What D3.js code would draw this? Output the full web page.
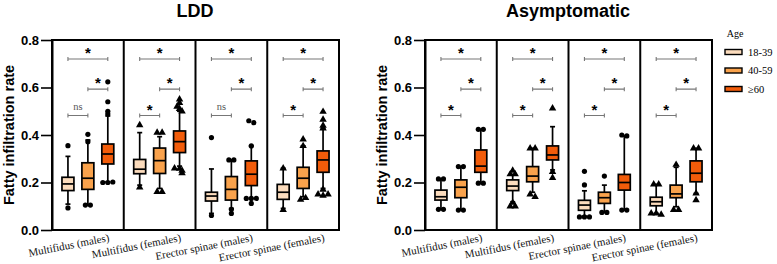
<!DOCTYPE html>
<html>
<head>
<meta charset="utf-8">
<script src="https://cdn.jsdelivr.net/npm/d3@7"></script>
<style>
  body { margin: 0; background: #fff; }
  svg { display: block; }
</style>
</head>
<body>
<svg id="chart" width="777" height="264"></svg>
<script>
// Box plots of fatty infiltration rate by muscle / sex / age, LDD vs asymptomatic.
const categories = ["Multifidus (males)", "Multifidus (females)",
                    "Erector spinae (males)", "Erector spinae (females)"];
const ageGroups = ["18-39", "40-59", "≥60"];
const yTicks = [0, 0.2, 0.4, 0.6, 0.8];
// per category, per age group: [whisker low, q1, median, q3, whisker high]
const lddStats = [
  [[0.109, 0.166, 0.194, 0.222, 0.310], [0.105, 0.171, 0.218, 0.283, 0.379], [0.203, 0.278, 0.320, 0.362, 0.480]],
  [[0.189, 0.237, 0.256, 0.297, 0.410], [0.175, 0.238, 0.292, 0.345, 0.393], [0.269, 0.326, 0.372, 0.417, 0.500]],
  [[0.070, 0.122, 0.143, 0.159, 0.257], [0.091, 0.126, 0.171, 0.225, 0.295], [0.133, 0.187, 0.235, 0.291, 0.354]],
  [[0.091, 0.129, 0.159, 0.192, 0.260], [0.140, 0.175, 0.218, 0.264, 0.354], [0.175, 0.243, 0.295, 0.333, 0.428]]
];
const lddOutliers = [
  [[0.355, 0.093], [0.403, 0.372, 0.105, 0.105], [0.624, 0.540, 0.500, 0.488, 0.200, 0.200, 0.202]],
  [[0.442, 0.180], [0.410, 0.410, 0.161, 0.161], [0.550, 0.535, 0.520, 0.510, 0.500, 0.260, 0.258, 0.250, 0.240]],
  [[0.389, 0.061], [0.295, 0.295, 0.087, 0.070], [0.460, 0.452, 0.354, 0.133, 0.133, 0.133, 0.112]],
  [[0.260, 0.085], [0.382, 0.354, 0.128, 0.135], [0.498, 0.465, 0.440, 0.428, 0.170, 0.150, 0.145, 0.150]]
];
const lddSig = [["*", "*", "ns"], ["*", "*", "*"], ["*", "*", "ns"], ["*", "*", "*"]];

const asymStats = [
  [[0.087, 0.126, 0.140, 0.168, 0.215], [0.084, 0.136, 0.180, 0.211, 0.267], [0.197, 0.243, 0.269, 0.337, 0.424]],
  [[0.119, 0.166, 0.185, 0.211, 0.234], [0.159, 0.203, 0.227, 0.267, 0.344], [0.253, 0.295, 0.316, 0.354, 0.435]],
  [[0.058, 0.083, 0.105, 0.125, 0.165], [0.074, 0.112, 0.136, 0.159, 0.189], [0.084, 0.168, 0.200, 0.234, 0.396]],
  [[0.070, 0.102, 0.119, 0.138, 0.192], [0.098, 0.136, 0.152, 0.189, 0.264], [0.154, 0.203, 0.239, 0.291, 0.344]]
];
const asymOutliers = [
  [[0.215, 0.215, 0.087, 0.087], [0.267, 0.267, 0.084, 0.084], [0.424, 0.424, 0.197, 0.197]],
  [[0.250, 0.235, 0.235, 0.115, 0.100, 0.100], [0.344, 0.344, 0.150, 0.140], [0.512, 0.245, 0.220]],
  [[0.247, 0.190, 0.055, 0.055, 0.055], [0.227, 0.074, 0.074], [0.400, 0.396, 0.084, 0.084]],
  [[0.192, 0.192, 0.070, 0.070, 0.065], [0.275, 0.085, 0.085], [0.344, 0.344, 0.126, 0.154]]
];
const asymSig = [["*", "*", "*"], ["*", "*", "*"], ["*", "*", "*"], ["*", "*", "*"]];

// comparison brackets: [from group, to group, height]
const brackets = [[0, 2, 0.72], [1, 2, 0.593], [0, 1, 0.482]];

const COLORS = ["#fcdcbd", "#f9a24c", "#f25c0a"];
const SANS = "'Liberation Sans', Arial, sans-serif";
const SERIF = "'Liberation Serif', 'Times New Roman', serif";

const svg = d3.select("#chart");
const y = d3.scaleLinear([0, 0.8], [230, 40]);

function spread(vals) {
  // small sideways offsets for points that sit at nearly the same value
  return vals.map((v, i) => {
    const k = vals.slice(0, i).filter((u) => Math.abs(u - v) < 0.011).length;
    const n = vals.filter((u) => Math.abs(u - v) < 0.011).length;
    return n === 1 ? 0 : (k - (n - 1) / 2) * 5;
  });
}

function drawChart(x0, title, stats, outliers, sig) {
  const x = d3.scaleBand(categories, [x0, x0 + 287]).padding(0);
  const xi = d3.scaleBand(ageGroups, [0, x.bandwidth()]).paddingInner(0.4).paddingOuter(0.5);
  const g = svg.append("g");

  g.append("text").attr("x", x0 + 143).attr("y", 17)
    .attr("text-anchor", "middle").attr("font-family", SANS)
    .attr("font-weight", "bold").attr("font-size", 18).text(title);

  // y axis
  const ax = g.append("g").attr("transform", `translate(${x0},0)`)
    .call(d3.axisLeft(y).tickValues(yTicks).tickFormat(d3.format(".1f"))
      .tickSize(11).tickPadding(2).tickSizeOuter(0));
  ax.select(".domain").attr("stroke-width", 2);
  ax.selectAll(".tick line").attr("stroke-width", 1.6);
  ax.selectAll(".tick text").attr("font-family", SANS).attr("font-weight", "bold")
    .attr("font-size", 13).attr("fill", "#000");

  g.append("text").attr("transform", `translate(${x0 - 38},135) rotate(-90)`)
    .attr("text-anchor", "middle").attr("font-family", SANS)
    .attr("font-weight", "bold").attr("font-size", 14.5).text("Fatty infiltration rate");

  // panel frame
  g.append("rect").attr("x", x0).attr("y", y(0.8)).attr("width", 287)
    .attr("height", y(0) - y(0.8)).attr("fill", "none")
    .attr("stroke", "#000").attr("stroke-width", 2);
  g.selectAll("line.div").data(categories.slice(1)).join("line")
    .attr("x1", (c) => x(c)).attr("x2", (c) => x(c))
    .attr("y1", y(0.8)).attr("y2", y(0))
    .attr("stroke", "#000").attr("stroke-width", 2);

  categories.forEach((cat, ci) => {
    const female = cat.includes("females");
    const pg = g.append("g").attr("transform", `translate(${x(cat)},0)`);
    ageGroups.forEach((ag, ai) => {
      const [lo, q1, med, q3, hi] = stats[ci][ai];
      const bx = xi(ag), bw = xi.bandwidth(), cx = bx + bw / 2;
      pg.append("line").attr("x1", cx).attr("x2", cx).attr("y1", y(hi)).attr("y2", y(lo))
        .attr("stroke", "#000").attr("stroke-width", 1.7);
      [lo, hi].forEach((v) => pg.append("line").attr("x1", cx - 2.5).attr("x2", cx + 2.5)
        .attr("y1", y(v)).attr("y2", y(v)).attr("stroke", "#000").attr("stroke-width", 1.7));
      pg.append("rect").attr("x", bx).attr("y", y(q3)).attr("width", bw)
        .attr("height", y(q1) - y(q3)).attr("fill", COLORS[ai])
        .attr("stroke", "#000").attr("stroke-width", 1.7);
      pg.append("line").attr("x1", bx).attr("x2", bx + bw).attr("y1", y(med)).attr("y2", y(med))
        .attr("stroke", "#000").attr("stroke-width", 1.7);
      const pts = outliers[ci][ai], offs = spread(pts);
      const sym = d3.symbol(d3.symbolTriangle, 24);
      pts.forEach((v, i) => {
        if (female) {
          pg.append("path").attr("d", sym())
            .attr("transform", `translate(${cx + offs[i]},${y(v)})`).attr("fill", "#000");
        } else {
          pg.append("circle").attr("cx", cx + offs[i]).attr("cy", y(v)).attr("r", 2.6).attr("fill", "#000");
        }
      });
    });

    // significance brackets
    brackets.forEach(([a, b, h], bi) => {
      const xa = xi(ageGroups[a]) + xi.bandwidth() / 2, xb = xi(ageGroups[b]) + xi.bandwidth() / 2;
      const yy = y(h);
      pg.append("path").attr("d", `M${xa},${yy - 2}V${yy + 2}M${xa},${yy}H${xb}M${xb},${yy - 2}V${yy + 2}`)
        .attr("fill", "none").attr("stroke", "#777").attr("stroke-width", 1.1);
      const lab = sig[ci][bi];
      if (lab === "ns") {
        pg.append("text").attr("x", (xa + xb) / 2).attr("y", yy - 6).attr("text-anchor", "middle")
          .attr("font-family", SERIF).attr("font-size", 10.5).attr("fill", "#555").text("ns");
      } else {
        pg.append("text").attr("x", (xa + xb) / 2).attr("y", yy - 1).attr("text-anchor", "middle")
          .attr("font-family", SANS).attr("font-weight", "bold").attr("font-size", 15).text(lab);
      }
    });

    // category label
    g.append("text").attr("transform", `translate(${x(cat) + x.bandwidth() / 2 + 22},241) rotate(-11)`)
      .attr("text-anchor", "end").attr("font-family", SERIF).attr("font-size", 11)
      .attr("fill", "#111").text(cat);
  });
}

drawChart(52, "LDD", lddStats, lddOutliers, lddSig);
drawChart(425, "Asymptomatic", asymStats, asymOutliers, asymSig);

// legend
const lg = svg.append("g").attr("transform", "translate(724,0)");
lg.append("text").attr("x", 11).attr("y", 37).attr("text-anchor", "middle")
  .attr("font-family", SERIF).attr("font-size", 10).text("Age");
lg.selectAll("rect").data(ageGroups).join("rect")
  .attr("x", 1).attr("y", (d, i) => 49.5 + i * 18.5).attr("width", 17).attr("height", 5)
  .attr("fill", (d, i) => COLORS[i]).attr("stroke", "#000").attr("stroke-width", 1.4);
lg.selectAll("text.lab").data(ageGroups).join("text").attr("class", "lab")
  .attr("x", 24).attr("y", (d, i) => 55.5 + i * 18.5)
  .attr("font-family", SERIF).attr("font-size", 10.5).text((d) => d);
</script>
</body>
</html>
